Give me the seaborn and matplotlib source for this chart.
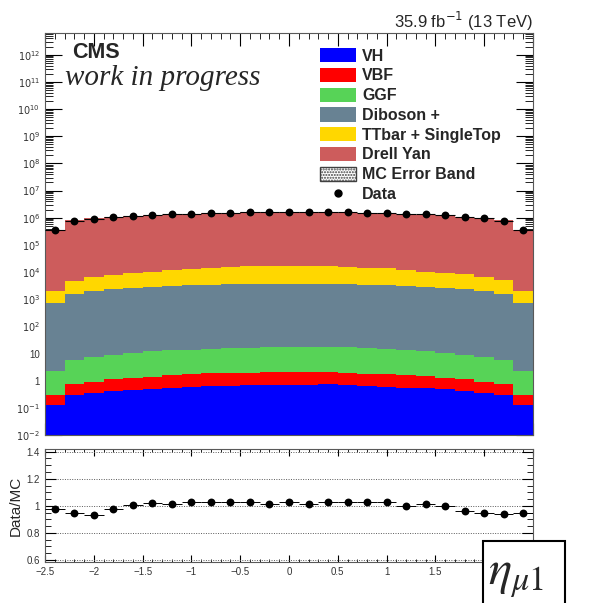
import numpy as np
import pandas as pd
import matplotlib
matplotlib.use("Agg")
import matplotlib.pyplot as plt
import seaborn as sns
from matplotlib.patches import Patch, Rectangle
from matplotlib.lines import Line2D
from matplotlib.ticker import LogLocator, FuncFormatter, MultipleLocator

# ---- binning in leading-muon pseudorapidity ----
bin_edges = [round(-2.5 + 0.2 * i, 2) for i in range(26)]
bin_centers = np.round(0.5 * (np.array(bin_edges[:-1]) + np.array(bin_edges[1:])), 2)

# ---- expected yields per bin (35.9 fb^-1) ----
processes = ["VH", "VBF", "GGF", "Diboson +", "TTbar + SingleTop", "Drell Yan"]
proc_colors = ["#0000FF", "#FF0000", "#57D357", "#688293", "#FFD700", "#CD5C5C"]

vh = [0.126, 0.29, 0.36, 0.41, 0.46, 0.50, 0.55, 0.59, 0.62, 0.65, 0.68, 0.71, 0.72,
      0.70, 0.73, 0.71, 0.65, 0.60, 0.55, 0.52, 0.48, 0.42, 0.36, 0.29, 0.126]
vbf = [0.17, 0.44, 0.56, 0.71, 0.83, 0.91, 1.07, 1.18, 1.23, 1.27, 1.30, 1.29, 1.32,
       1.34, 1.31, 1.27, 1.17, 1.12, 1.07, 0.93, 0.81, 0.70, 0.56, 0.44, 0.17]
ggf = [2.06, 5.27, 6.58, 7.78, 9.0, 10.5, 11.3, 12.2, 13.2, 13.9, 14.5, 15.0, 15.2,
       15.2, 15.2, 14.7, 14.0, 12.8, 11.3, 10.5, 9.6, 7.8, 6.8, 5.1, 2.06]
diboson = [729, 1594, 1972, 2271, 2620, 2788, 3017, 3186, 3335, 3484, 3583, 3663, 3683,
           3683, 3683, 3473, 3284, 3195, 3017, 2768, 2469, 2271, 1972, 1568, 729]
ttbar = [1248, 3040, 4550, 5460, 6810, 7480, 8820, 9800, 10650, 11500, 12400, 12820, 12980,
         12980, 12980, 12260, 11160, 10460, 8820, 7500, 6960, 5910, 4550, 3336, 1248]
drell_yan = [358000, 815400, 943500, 1052300, 1150600, 1219700, 1298200, 1367000,
             1436000, 1495000, 1544000, 1573500, 1593300, 1583300, 1563300, 1534300,
             1485500, 1426300, 1358200, 1289700, 1210600, 1071800, 983500, 825100, 358000]

# ---- observed events per bin ----
data_counts = [351000, 775700, 886400, 1033500, 1168100, 1254600, 1329700, 1414500,
               1486300, 1547800, 1606800, 1613900, 1658300, 1624000, 1627400, 1596500,
               1545000, 1476000, 1370000, 1319500, 1220000, 1040000, 940500, 776900, 341300]

mc_rel_unc = 0.01

yields = [vh, vbf, ggf, diboson, ttbar, drell_yan]
frames = [pd.DataFrame({"eta": bin_centers, "w": np.asarray(y, float), "process": p})
          for p, y in zip(processes, yields)]
mc = pd.concat(frames, ignore_index=True)
mc_total = np.sum([np.asarray(y, float) for y in yields], axis=0)
data_arr = np.asarray(data_counts, float)
ratio = data_arr / mc_total
ratio_err = np.sqrt(data_arr) / mc_total

# ---- style ----
sns.set_theme(style="ticks")
plt.rcParams["font.family"] = ["Liberation Sans", "DejaVu Sans"]
plt.rcParams["axes.edgecolor"] = "0.35"
plt.rcParams["axes.linewidth"] = 0.8

fig = plt.figure(figsize=(5.94, 6.03), dpi=100)
ax = fig.add_axes([45 / 594, 1 - 435 / 603, 488 / 594, 402 / 603])
rax = fig.add_axes([45 / 594, 1 - 562 / 603, 488 / 594, 113 / 603])

palette = dict(zip(processes, proc_colors))
sns.histplot(data=mc, x="eta", weights="w", hue="process",
             hue_order=processes[::-1], palette=palette, bins=bin_edges,
             multiple="stack", element="step", fill=True, alpha=1.0,
             linewidth=0, legend=False, ax=ax)
ax.set_yscale("log")

# MC uncertainty band
band_lo = np.append(mc_total, mc_total[-1]) * (1 - mc_rel_unc)
band_hi = np.append(mc_total, mc_total[-1]) * (1 + mc_rel_unc)
ax.fill_between(bin_edges, band_lo, band_hi, step="post", facecolor="none",
                edgecolor="0.3", hatch="....", linewidth=0)

# data
ax.errorbar(bin_centers, data_arr, xerr=0.1, yerr=np.sqrt(data_arr), fmt="none",
            ecolor="black", elinewidth=0.8, zorder=4)
sns.scatterplot(x=bin_centers, y=data_arr, color="black", s=32, edgecolor="black",
                linewidth=0, ax=ax, zorder=5)

ax.set_xlim(-2.5, 2.5)
ax.set_ylim(1e-2, 10 ** 12.8)
ax.set_xlabel("")
ax.set_ylabel("")


def log_label(v, pos):
    e = int(round(np.log10(v)))
    if e == 0:
        return "1"
    if e == 1:
        return "10"
    return r"$10^{%d}$" % e


ax.yaxis.set_major_locator(LogLocator(base=10, numticks=40))
ax.yaxis.set_minor_locator(LogLocator(base=10, subs=np.arange(2, 10) * 1.0, numticks=400))
ax.yaxis.set_major_formatter(FuncFormatter(log_label))
ax.xaxis.set_major_locator(MultipleLocator(0.5))
ax.xaxis.set_minor_locator(MultipleLocator(0.1))
ax.tick_params(axis="both", which="both", direction="in", top=True, right=True,
               labelbottom=False, labelsize=7, labelcolor="0.2", color="black")
ax.tick_params(axis="y", which="major", length=12, width=0.8)
ax.tick_params(axis="y", which="minor", length=6, width=0.6)
ax.tick_params(axis="x", which="major", length=9, width=0.8)
ax.tick_params(axis="x", which="minor", length=4.5, width=0.6)

ax.text(0.055, 0.952, "CMS", transform=ax.transAxes, fontsize=15.5, fontweight="bold",
        ha="left", va="center")
ax.text(0.041, 0.888, "work in progress", transform=ax.transAxes, fontsize=21,
        family="Liberation Serif", style="italic", ha="left", va="center")
fig.text(533 / 594, 1 - 21 / 603, "35.9 fb$^{-1}$ (13 TeV)", ha="right", va="center",
         fontsize=12)

handles = [Patch(facecolor=c, edgecolor="none") for c in proc_colors]
handles.append(Patch(facecolor="white", edgecolor="0.25", hatch="......", linewidth=1))
handles.append(Line2D([], [], marker="o", color="black", linestyle="none", markersize=5))
labels = processes + ["MC Error Band", "Data"]
ax.legend(handles, labels, loc="upper left", bbox_to_anchor=(320 / 594, 1 - 48 / 603),
          bbox_transform=fig.transFigure, frameon=False, borderpad=0, borderaxespad=0,
          prop={"weight": "bold", "size": 11.5}, handlelength=2.25, handleheight=1.0,
          handletextpad=0.4, labelspacing=0.26)

# ---- ratio panel ----
rax.errorbar(bin_centers, ratio, xerr=0.1, yerr=ratio_err, fmt="none", ecolor="black",
             elinewidth=0.7, zorder=4)
sns.scatterplot(x=bin_centers, y=ratio, color="black", s=32, linewidth=0, ax=rax, zorder=5)
rax.set_xlim(-2.5, 2.5)
rax.set_ylim(0.585, 1.42)
rax.yaxis.set_major_locator(MultipleLocator(0.2))
rax.yaxis.set_minor_locator(MultipleLocator(0.05))
rax.xaxis.set_major_locator(MultipleLocator(0.5))
rax.xaxis.set_minor_locator(MultipleLocator(0.1))


def lin_label(v, pos):
    if v > 1.75:  # 2 and 2.5 sit under the variable tag
        return ""
    return ("%g" % round(v, 2)).replace("-", "\u2212")


rax.xaxis.set_major_formatter(FuncFormatter(lin_label))
rax.yaxis.set_major_formatter(FuncFormatter(lambda v, p: "%g" % round(v, 2)))
rax.tick_params(axis="both", which="both", direction="in", top=True, right=True,
                labelsize=7, labelcolor="0.2", color="black")
rax.tick_params(axis="y", which="major", length=8, width=0.8)
rax.tick_params(axis="y", which="minor", length=4, width=0.6)
rax.tick_params(axis="x", which="major", length=5, width=0.8)
rax.tick_params(axis="x", which="minor", length=2.5, width=0.6)
rax.grid(axis="y", which="major", linestyle=(0, (1, 1.5)), color="0.35", linewidth=0.7)
rax.set_ylabel("Data/MC", fontsize=11)
rax.yaxis.set_label_coords(-0.045, 0.5)
rax.set_xlabel("")

# variable tag
fig.add_artist(Rectangle((483 / 594, -0.05), 82 / 594, 0.05 + 1 - 541 / 603,
                         transform=fig.transFigure, facecolor="white", edgecolor="black",
                         linewidth=1.5, zorder=10))
fig.text(488 / 594, 1 - 578 / 603, r"$\eta_{\mu1}$", fontsize=35, math_fontfamily="stix",
         ha="left", va="center", zorder=11)

fig.savefig("out.png", dpi=100)
